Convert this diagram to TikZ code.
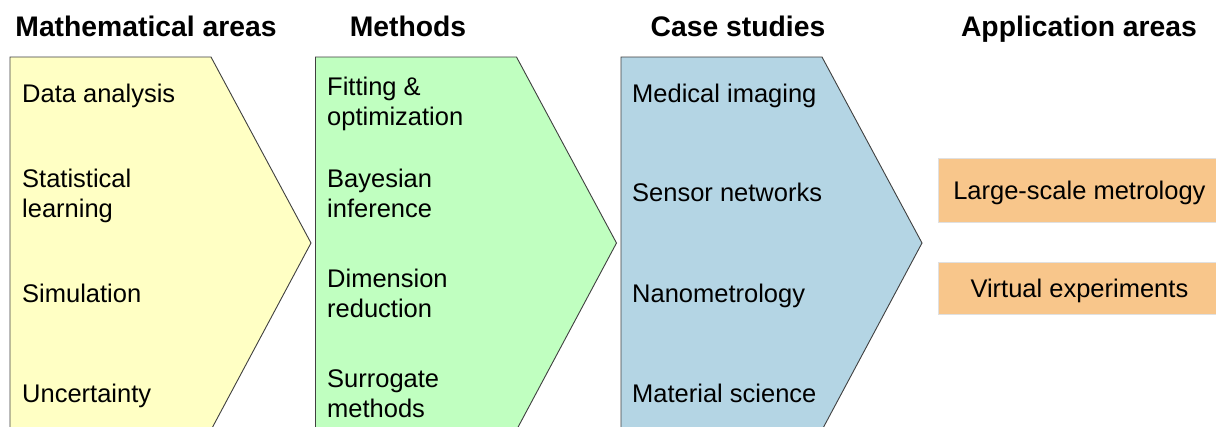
\documentclass[tikz,border=0pt]{standalone}
\usepackage{fontspec}
\setmainfont{Liberation Sans}
\usetikzlibrary{positioning}
\definecolor{mathyellow}{HTML}{FFFFC4}
\definecolor{methgreen}{HTML}{C0FFC0}
\definecolor{caseblue}{HTML}{B4D5E4}
\definecolor{apporange}{HTML}{F8C68B}

\tikzset{
  chevron/.style={draw=black!75, line width=0.9pt, line join=miter},
  header/.style={anchor=base, inner sep=0pt, font=\fontsize{28.3}{32}\selectfont\bfseries},
  item/.style={anchor=base west, inner sep=0pt, align=left, font=\fontsize{25.5}{30}\selectfont},
  appbox/.style={fill=apporange, draw=black!12, line width=0.8pt, anchor=north west,
    minimum width=282pt, inner sep=0pt, text depth=0pt, font=\fontsize{25.5}{30}\selectfont}
}

\begin{document}
\begin{tikzpicture}[x=1pt, y=-1pt]

  \newcommand\X{305.5}
  \newcommand\T{57}
  \newcommand\B{430}

  \useasboundingbox[fill=white] (0,0) rectangle (1216,426);

  % chevrons
  \draw[chevron, fill=mathyellow] (10+0*\X, \T) -- (211+0*\X, \T) -- (311+0*\X, 243) -- (211+0*\X, \B) -- (10+0*\X, \B) -- cycle;
  \draw[chevron, fill=methgreen]  (10+1*\X, \T) -- (211+1*\X, \T) -- (311+1*\X, 243) -- (211+1*\X, \B) -- (10+1*\X, \B) -- cycle;
  \draw[chevron, fill=caseblue]   (10+2*\X, \T) -- (211+2*\X, \T) -- (311+2*\X, 243) -- (211+2*\X, \B) -- (10+2*\X, \B) -- cycle;

  % headers
  \node[header] (hmath) at (146, 36) {Mathematical areas};
  \node[header] (hmeth) at (408, 36) {Methods};
  \node[header] (hcase) at (738, 36) {Case studies};
  \node[header] (happ)  at (1079, 36) {Application areas};

  % mathematical areas (base = last line)
  \node[item] (data)  at (22, 102.5) {Data analysis};
  \node[item] (stat)  at (22, 217.5) {Statistical\\learning};
  \node[item] (sim)   at (22, 302.5) {Simulation};
  \node[item] (unc)   at (22, 402.5) {Uncertainty};

  % methods
  \node[item] (fit)   at (327, 125.5) {Fitting \&\\optimization};
  \node[item] (bayes) at (327, 217.5) {Bayesian\\inference};
  \node[item] (dim)   at (327, 317.5) {Dimension\\reduction};
  \node[item] (surr)  at (327, 417.5) {Surrogate\\methods};

  % case studies
  \node[item] (med)   at (632, 102.5) {Medical imaging};
  \node[item] (sens)  at (632, 201.5) {Sensor networks};
  \node[item] (nano)  at (632, 302.5) {Nanometrology};
  \node[item] (mat)   at (632, 402.5) {Material science};

  % application areas
  \node[appbox, minimum height=64pt] (large) at (938, 158) {Large-scale metrology};
  \node[appbox, minimum height=52pt] (virt)  at (938, 262) {Virtual experiments};

\end{tikzpicture}
\end{document}
